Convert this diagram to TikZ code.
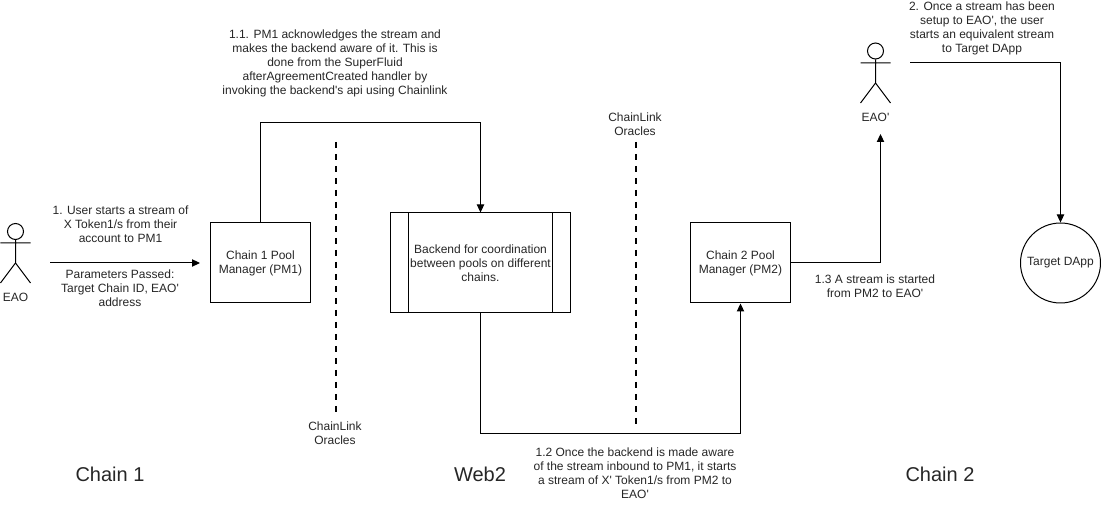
\documentclass[tikz,border=0pt]{standalone}
\usepackage{fontspec}
\setmainfont{Liberation Sans}
\newfontfamily\plainsans{Liberation Sans}
\usetikzlibrary{arrows.meta}
\tikzset{
  every node/.style={font=\plainsans\fontsize{9}{10.5}\selectfont,text=black!85},
  lbl/.style={align=center,inner sep=0pt,anchor=center},
  big/.style={font=\plainsans\fontsize{15}{18}\selectfont,inner sep=0pt,text=black!85},
  boxn/.style={draw=black,line width=0.75pt,align=center,inner sep=0pt},
  flow/.style={draw=black,line width=0.75pt,-{Triangle[length=6pt,width=5.5pt]}},
  oracle/.style={draw=black,line width=1.5pt,dash pattern=on 4.5pt off 4.5pt},
  stick/.style={draw=black,line width=0.75pt},
}
\begin{document}
\begin{tikzpicture}[x=0.75pt,y=-0.75pt]
\useasboundingbox (0,0) rectangle (1101,509);
% boxes
\node[boxn,minimum width=75pt,minimum height=60pt] (pmone) at (260.5,263) {Chain 1 Pool\\Manager (PM1)};
\node[boxn,minimum width=135pt,minimum height=75pt] (backend) at (480.5,263) {};
\node[lbl] (backendtext) at (480.5,263) {Backend for coordination\\between pools on different\\chains.};
\draw[stick] (408.5,213) -- (408.5,313) (552.5,213) -- (552.5,313);
\node[boxn,minimum width=75pt,minimum height=60pt] (pmtwo) at (740.5,263) {Chain 2 Pool\\Manager (PM2)};
\node[boxn,circle,minimum size=60pt,inner sep=0pt] (dapp) at (1060.5,263) {Target DApp};
% actors
\node[draw=black,line width=0.75pt,circle,minimum size=12pt,inner sep=0pt] (eaohead) at (15.5,231.5) {};
\draw[stick] (eaohead.south) -- (15.5,263) (0.5,243) -- (30.5,243) (0.5,283) -- (15.5,263) -- (30.5,283);
\node[lbl] (eao) at (15.5,297) {EAO};
\node[draw=black,line width=0.75pt,circle,minimum size=12pt,inner sep=0pt] (eaophead) at (875.5,51) {};
\draw[stick] (eaophead.south) -- (875.5,83) (860.5,63) -- (890.5,63) (860.5,103) -- (875.5,83) -- (890.5,103);
\node[lbl] (eaop) at (875.5,117) {EAO'};
% free ends
\coordinate (startone) at (50,263);
\coordinate (endone) at (200,263);
\coordinate (startp) at (910,63);
\coordinate (arrp) at (880.5,134);
% connectors
\draw[flow] (startone) -- (endone);
\draw[flow] (pmone.north) -- ++(0,-100) -| (backend.north);
\draw[flow] (backend.south) -- ++(0,120) -| (pmtwo.south);
\draw[flow] (pmtwo.east) -| (arrp);
\draw[flow] (startp) -| (dapp.north);
% oracles
\coordinate (oa) at (335.5,142); \coordinate (ob) at (335.5,414);
\coordinate (oc) at (635.5,142); \coordinate (od) at (635.5,424);
\draw[oracle] (oa) -- (ob);
\draw[oracle] (oc) -- (od);
\node[lbl] (ol) at (335,433) {ChainLink\\Oracles};
\node[lbl] (or) at (635,124) {ChainLink\\Oracles};
% labels
\node[lbl] (t1) at (120.5,224) {1. User starts a stream of\\X Token1/s from their\\account to PM1};
\node[lbl] (t1b) at (120,288) {Parameters Passed:\\Target Chain ID, EAO'\\address};
\node[lbl] (t11) at (335,63) {1.1. PM1 acknowledges the stream and\\makes the backend aware of it. This is\\done from the SuperFluid\\afterAgreementCreated handler by\\invoking the backend's api using Chainlink};
\node[lbl] (t12) at (635,473) {1.2 Once the backend is made aware\\of the stream inbound to PM1, it starts\\a stream of X' Token1/s from PM2 to\\EAO'};
\node[lbl] (t13) at (875,286.5) {1.3 A stream is started\\from PM2 to EAO'};
\node[lbl] (t2) at (982,28) {2. Once a stream has been\\setup to EAO', the user\\starts an equivalent stream\\to Target DApp};
\node[big] (c1) at (110,474) {Chain 1};
\node[big] (w2) at (480,474) {Web2};
\node[big] (c2) at (940,474) {Chain 2};
\end{tikzpicture}
\end{document}
